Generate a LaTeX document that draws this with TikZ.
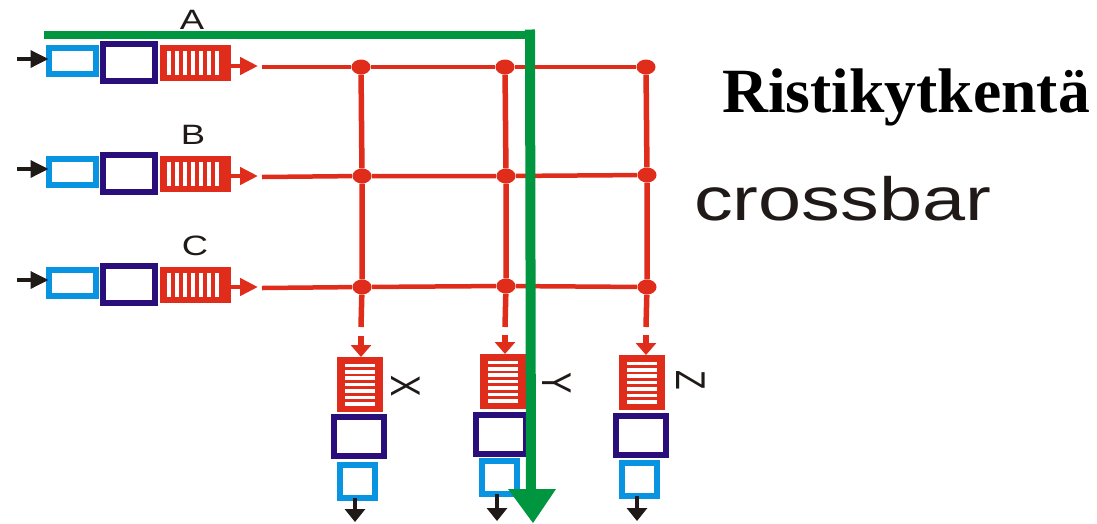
\documentclass[tikz,border=0pt]{standalone}
\usepackage{fontspec}
\setmainfont{Liberation Serif}
\setsansfont{Liberation Sans}
\usetikzlibrary{positioning}
\usetikzlibrary{arrows.meta}

\definecolor{wirered}{HTML}{E02D1B}
\definecolor{portblue}{HTML}{0994E2}
\definecolor{linkviolet}{HTML}{2A0F7A}
\definecolor{pathgreen}{HTML}{009640}
\definecolor{inkblack}{HTML}{1F1A17}

\tikzset{
  inport/.style={draw=portblue, line width=6pt, fill=white, inner sep=0pt, outer sep=0pt, minimum width=47pt, minimum height=26pt},
  outport/.style={inport, minimum width=35pt, minimum height=33pt},
  swbox/.style={draw=linkviolet, line width=6pt, fill=white, inner sep=0pt, outer sep=0pt, minimum width=52pt, minimum height=37pt},
  outsw/.style={swbox, minimum width=50pt, minimum height=39pt},
  queuein/.style={fill=wirered, inner sep=0pt, outer sep=0pt, minimum width=71pt, minimum height=36pt,
    path picture={\foreach \i in {-3,...,3}
      \fill[white] ([xshift=\i*8pt-2.5pt-2pt,yshift=12pt]path picture bounding box.center) rectangle ++(4pt,-24pt);}},
  queueout/.style={fill=wirered, inner sep=0pt, outer sep=0pt, minimum width=46pt, minimum height=55pt,
    path picture={\foreach \i in {-3,...,3}
      \fill[white] ([xshift=-15pt,yshift=\i*6.4pt-1.8pt]path picture bounding box.center) rectangle ++(30pt,3.6pt);}},
  junction/.style={circle, fill=wirered, inner sep=0pt, minimum size=15pt, xscale=1.27},
  wire/.style={draw=wirered, line width=4.5pt},
  postwire/.style={draw=wirered, line width=5.5pt},
  redarrow/.style={wire, -{Triangle[length=18pt,width=17pt]}},
  droparrow/.style={wire, line width=6pt, -{Triangle[length=12pt,width=20pt]}},
  blackarrow/.style={draw=inkblack, line width=3.5pt, -{Triangle[length=18pt,width=17pt]}},
  blackdrop/.style={draw=inkblack, line width=4pt, -{Triangle[length=13pt,width=20pt]}},
  greenpath/.style={draw=pathgreen, line width=8pt},
  greendrop/.style={draw=pathgreen, line width=10pt, line cap=rect},
  greentip/.style={fill=pathgreen, inner sep=0pt, outer sep=0pt},
  inlabel/.style={font=\sffamily\fontsize{28}{28}\selectfont, text=inkblack, xscale=1.3, inner sep=0pt},
  outlabel/.style={font=\sffamily\fontsize{32}{32}\selectfont, text=inkblack, xscale=1.3, rotate=-90, inner sep=0pt}
}

\begin{document}
\begin{tikzpicture}[x=1pt, y=-1pt]
  \useasboundingbox (0,0) rectangle (1097,523);
  % input side
  \node[inport]  (ina)  at (72,61)    {};
  \node[swbox]   (swa)  at (129,62.5) {};
  \node[queuein] (qa)   at (195.5,63) {};
  \node[inport]  (inb)  at (72,172)   {};
  \node[swbox]   (swb)  at (129,173)  {};
  \node[queuein] (qb)   at (195.5,174) {};
  \node[inport]  (inc)  at (72,283)   {};
  \node[swbox]   (swc)  at (129,284)  {};
  \node[queuein] (qc)   at (195.5,285) {};
  \node[inlabel] (la) at (192,20)  {A};
  \node[inlabel] (lb) at (193,135) {B};
  \node[inlabel] (lc) at (195,246) {C};
  % free ends
  \coordinate (sa) at (17,59);
  \coordinate (sb) at (17,169);
  \coordinate (sc) at (17,280);
  \coordinate (ta) at (258,66);
  \coordinate (tb) at (258,176);
  \coordinate (tc) at (258,287);
  \coordinate (wa) at (262,67);
  \coordinate (wb) at (262,177);
  \coordinate (wc) at (262,288);
  % crossings
  \node[junction] (a1) at (361,67)  {};
  \node[junction] (a2) at (505,67)  {};
  \node[junction] (a3) at (646,67)  {};
  \node[junction] (b1) at (362,176) {};
  \node[junction] (b2) at (506,176) {};
  \node[junction] (b3) at (647,175) {};
  \node[junction] (c1) at (362,287) {};
  \node[junction] (c2) at (506,286) {};
  \node[junction] (c3) at (647,287) {};
  % output side
  \node[queueout] (qx) at (360,384.5) {};
  \node[outsw]    (swx) at (358.5,436.5) {};
  \node[outport]  (ox) at (357,481)   {};
  \node[queueout] (qy) at (503,381.5) {};
  \node[outsw]    (swy) at (500.5,434) {};
  \node[outport]  (oy) at (499.5,477.5) {};
  \node[queueout] (qz) at (642,382.5) {};
  \node[outsw]    (swz) at (641,435) {};
  \node[outport]  (oz) at (639.5,479.5) {};
  \node[outlabel] (lx) at (406,386) {X};
  \node[outlabel] (ly) at (557,383) {Y};
  \node[outlabel] (lz) at (691,380) {Z};
  \coordinate (ex) at (361,327);
  \coordinate (ey) at (505,327);
  \coordinate (ez) at (646,327);
  \coordinate (fx) at (361,336);
  \coordinate (fy) at (505,335);
  \coordinate (fz) at (646,335);
  \coordinate (dx) at (355,522);
  \coordinate (dy) at (497,521);
  \coordinate (dz) at (637,521);
  % wires
  \draw[wire] (wa) -- (a1) -- (a2) -- (a3);
  \draw[wire] (wb) -- (b1) -- (b2) -- (b3);
  \draw[wire] (wc) -- (c1) -- (c2) -- (c3);
  \draw[postwire] (a1) -- (b1) -- (c1) -- (ex);
  \draw[postwire] (a2) -- (b2) -- (c2) -- (ey);
  \draw[postwire] (a3) -- (b3) -- (c3) -- (ez);
  \draw[redarrow] (qa.east |- ta) -- (ta);
  \draw[redarrow] (qb.east |- tb) -- (tb);
  \draw[redarrow] (qc.east |- tc) -- (tc);
  \draw[droparrow] (fx) -- (fx |- qx.north);
  \draw[droparrow] (fy) -- (fy |- qy.north);
  \draw[droparrow] (fz) -- (fz |- qz.north);
  \draw[blackarrow] (sa) -- (ina.west |- sa);
  \draw[blackarrow] (sb) -- (inb.west |- sb);
  \draw[blackarrow] (sc) -- (inc.west |- sc);
  \draw[blackdrop] (dx |- ox.south) -- (dx);
  \draw[blackdrop] (dy |- oy.south) -- (dy);
  \draw[blackdrop] (dz |- oz.south) -- (dz);
  % switched path
  \coordinate (g0) at (44,34.5);
  \coordinate (g1) at (530,34.5);
  \coordinate (g2) at (531,492);
  \draw[greenpath] (g0) -- (g1);
  \draw[greendrop] (g1) -- (g2);
  \fill[greentip] (508,489) -- (556,489) -- (533,523) -- cycle;
  % titles
  \node[font=\bfseries\fontsize{63}{63}\selectfont, text=black, inner sep=0pt, anchor=base west, xscale=1.01] (title) at (722,112) {Ristikytkentä};
  \node[font=\sffamily\fontsize{61}{61}\selectfont, text=inkblack, inner sep=0pt, anchor=base west, xscale=1.27] (sub) at (694,220) {crossbar};
\end{tikzpicture}
\end{document}
